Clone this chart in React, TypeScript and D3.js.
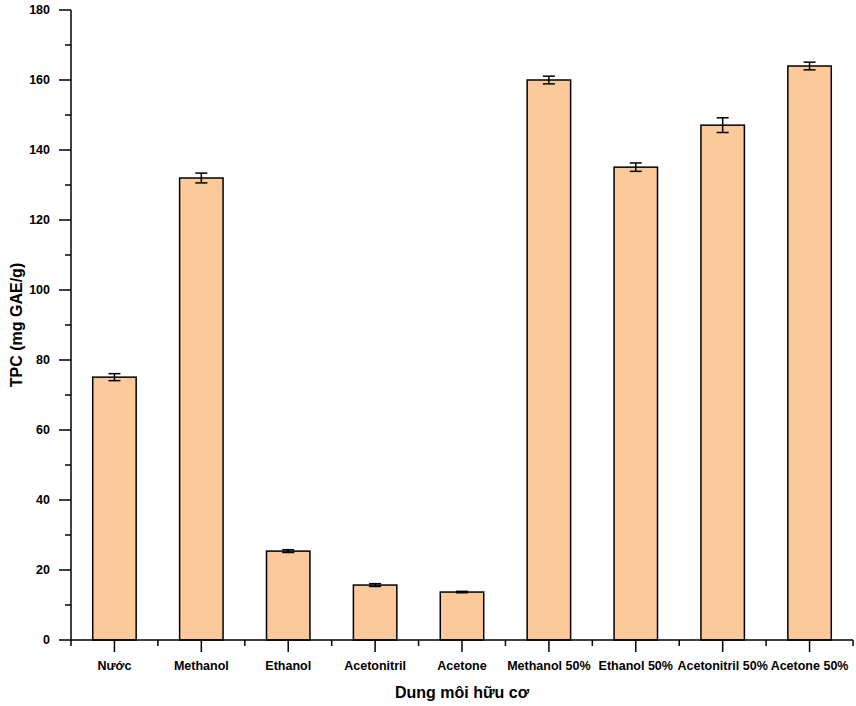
import React from "react";
import * as d3 from "d3";

const categories = ["Nước", "Methanol", "Ethanol", "Acetonitril", "Acetone", "Methanol 50%", "Ethanol 50%", "Acetonitril 50%", "Acetone 50%"];
const values = [75.1, 132, 25.4, 15.7, 13.7, 160, 135.1, 147.1, 164];
const errors = [1.0, 1.4, 0.4, 0.4, 0.2, 1.1, 1.2, 2.1, 1.1];
const yTicks = [0, 20, 40, 60, 80, 100, 120, 140, 160, 180];
const yMinorTicks = [10, 30, 50, 70, 90, 110, 130, 150, 170];

const W = 856, H = 706;
const left = 71, right = 853, top = 10, bottom = 640;
const FONT = "'Liberation Sans', Arial, sans-serif";

export default function App() {
  const x = d3.scaleBand<string>().domain(categories).range([left, right]).paddingInner(0).paddingOuter(0);
  const y = d3.scaleLinear().domain([0, 180]).range([bottom, top]);
  const bw = x.bandwidth() * 0.5;
  const step = x.step();
  const boundaries = d3.range(categories.length + 1).map(i => left + i * step);

  return (
    <svg width={W} height={H} style={{ position: "absolute", left: 0, top: 0, background: "#fff" }} fontFamily={FONT}>
      {categories.map((c, i) => {
        const cx = x(c)! + x.bandwidth() / 2;
        const v = values[i], e = errors[i];
        return (
          <g key={c}>
            <rect x={cx - bw / 2} y={y(v)} width={bw} height={y(0) - y(v)} fill="#FCCA9A" stroke="#000" strokeWidth={1.5} />
            <line x1={cx} x2={cx} y1={y(v + e)} y2={y(v - e)} stroke="#000" strokeWidth={1.5} />
            <line x1={cx - 6} x2={cx + 6} y1={y(v + e)} y2={y(v + e)} stroke="#000" strokeWidth={1.5} />
            <line x1={cx - 6} x2={cx + 6} y1={y(v - e)} y2={y(v - e)} stroke="#000" strokeWidth={1.5} />
          </g>
        );
      })}
      {/* y axis */}
      <line x1={left} x2={left} y1={top} y2={bottom} stroke="#000" strokeWidth={1.5} />
      {yTicks.map(t => (
        <g key={t}>
          <line x1={left - 12} x2={left} y1={y(t)} y2={y(t)} stroke="#000" strokeWidth={1.5} />
          <text x={50} y={y(t)} dy="0.35em" textAnchor="end" fontSize={12.5} fontWeight="bold" fill="#000">{t}</text>
        </g>
      ))}
      {yMinorTicks.map(t => (
        <line key={t} x1={left - 6} x2={left} y1={y(t)} y2={y(t)} stroke="#000" strokeWidth={1.5} />
      ))}
      {/* x axis */}
      <line x1={left} x2={right} y1={bottom} y2={bottom} stroke="#000" strokeWidth={1.5} />
      {boundaries.map((b, i) => (
        <line key={i} x1={b} x2={b} y1={bottom} y2={bottom + 6} stroke="#000" strokeWidth={1.5} />
      ))}
      {categories.map(c => {
        const cx = x(c)! + x.bandwidth() / 2;
        return (
          <g key={c}>
            <line x1={cx} x2={cx} y1={bottom} y2={bottom + 12} stroke="#000" strokeWidth={1.5} />
            <text x={cx} y={670} textAnchor="middle" fontSize={12.5} fontWeight="bold" fill="#000">{c}</text>
          </g>
        );
      })}
      <text x={(left + right) / 2} y={698} textAnchor="middle" fontSize={16} fontWeight="bold" fill="#000">Dung môi hữu cơ</text>
      <text transform={`translate(22,${(top + bottom) / 2}) rotate(-90)`} textAnchor="middle" fontSize={16} fontWeight="bold" fill="#000">TPC (mg GAE/g)</text>
    </svg>
  );
}
